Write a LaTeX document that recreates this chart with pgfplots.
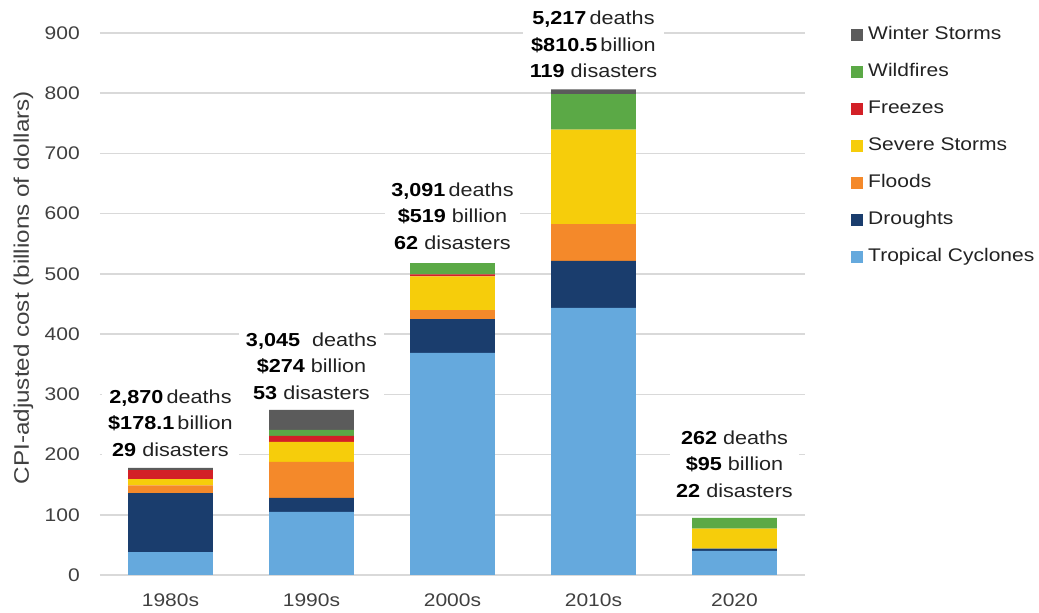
\documentclass[border=0pt]{standalone}
\usepackage{fontspec}
\setmainfont{Liberation Sans}[FakeStretch=1.15]
\usepackage{pgfplots}
\pgfplotsset{compat=1.18}
\definecolor{cTrop}{HTML}{65A9DD}
\definecolor{cDrought}{HTML}{1A3D6D}
\definecolor{cFlood}{HTML}{F4892A}
\definecolor{cSevere}{HTML}{F6CD0B}
\definecolor{cFreeze}{HTML}{D32027}
\definecolor{cFire}{HTML}{5BA946}
\definecolor{cWinter}{HTML}{5B5B5B}
\definecolor{gridgray}{HTML}{D9D9D9}
\definecolor{tickgray}{HTML}{404040}
\definecolor{anntext}{HTML}{222222}
\begin{document}
\begin{tikzpicture}
\begin{axis}[name=ax, scale only axis, width=528.75pt, height=406.5pt, clip=false,
  ybar stacked, bar width=0.6, xmin=-0.5, xmax=4.5, ymin=0, ymax=900,
  xtick={0,1,2,3,4}, xticklabels={1980s,1990s,2000s,2010s,2020},
  ytick={0,100,...,900},
  ymajorgrids, grid style={color=gridgray, line width=1.1pt},
  axis line style={draw=none}, major tick length=0pt,
  /pgf/number format/assume math mode=true,
  tick label style={font=\fontsize{13.7}{15}\selectfont, text=tickgray},
  yticklabel style={inner sep=0pt, xshift=-15pt},
  xticklabel style={inner sep=0pt, yshift=-13.5pt},
  ylabel={CPI-adjusted cost (billions of dollars)},
  ylabel style={font=\fontsize{15.8}{17}\selectfont, text=tickgray, inner sep=0pt},
  every axis y label/.append style={at={(rel axis cs:-0.1085,0.53)}, anchor=center},
  reverse legend,
  legend image code/.code={\fill[#1, draw=none] (0pt,-4.5pt) rectangle (9pt,4.5pt);},
  legend style={at={(rel axis cs:1.0652,1.012)}, anchor=north west, draw=none, fill=none,
    inner sep=0pt, row sep=15.75pt, font=\fontsize{13.7}{15}\selectfont, text=anntext,
    nodes={inner sep=0pt, text height=9.5pt, text depth=2.5pt},
    /tikz/every odd column/.append style={column sep=3.75pt},
    cells={anchor=west}},
  every axis plot/.append style={draw=none},
]
\addplot[fill=cTrop] coordinates {(0,38) (1,105) (2,369) (3,443.5) (4,40)};
\addlegendentry{Tropical Cyclones}
\addplot[fill=cDrought] coordinates {(0,98) (1,23) (2,56) (3,78) (4,4)};
\addlegendentry{Droughts}
\addplot[fill=cFlood] coordinates {(0,13) (1,60) (2,15) (3,61) (4,0)};
\addlegendentry{Floods}
\addplot[fill=cSevere] coordinates {(0,10) (1,33) (2,56) (3,157) (4,33)};
\addlegendentry{Severe Storms}
\addplot[fill=cFreeze] coordinates {(0,15) (1,10) (2,3) (3,0) (4,0)};
\addlegendentry{Freezes}
\addplot[fill=cFire] coordinates {(0,0) (1,10) (2,19) (3,59) (4,18)};
\addlegendentry{Wildfires}
\addplot[fill=cWinter] coordinates {(0,4) (1,33) (2,0) (3,8) (4,0)};
\addlegendentry{Winter Storms}
\tikzset{ann/.style={anchor=south, align=center, inner xsep=5pt, inner ysep=0pt, fill=white,
  font=\fontsize{14.1}{19.9}\selectfont, text=anntext}}
\node[ann] at (axis cs:0,196) {\textbf{\color{black}2,870}\,deaths\\\textbf{\color{black}\$178.1}\,billion\\\textbf{\color{black}29} disasters};
\node[ann] at (axis cs:1,290.6) {\textbf{\color{black}3,045}\ \ deaths\\\textbf{\color{black}\$274} billion\\\textbf{\color{black}53} disasters};
\node[ann] at (axis cs:2,539.7) {\textbf{\color{black}3,091}\,deaths\\\textbf{\color{black}\$519} billion\\\textbf{\color{black}62} disasters};
\node[ann] at (axis cs:3,825.3) {\textbf{\color{black}5,217}\,deaths\\\textbf{\color{black}\$810.5}\,billion\\\textbf{\color{black}119} disasters};
\node[ann] at (axis cs:4,127.9) {\textbf{\color{black}262} deaths\\\textbf{\color{black}\$95} billion\\\textbf{\color{black}22} disasters};
\end{axis}
\pgfresetboundingbox
\path[use as bounding box] ([shift={(-75pt,431.25pt)}]ax.south west) rectangle ([shift={(704.25pt,-28.5pt)}]ax.south west);
\end{tikzpicture}
\end{document}
